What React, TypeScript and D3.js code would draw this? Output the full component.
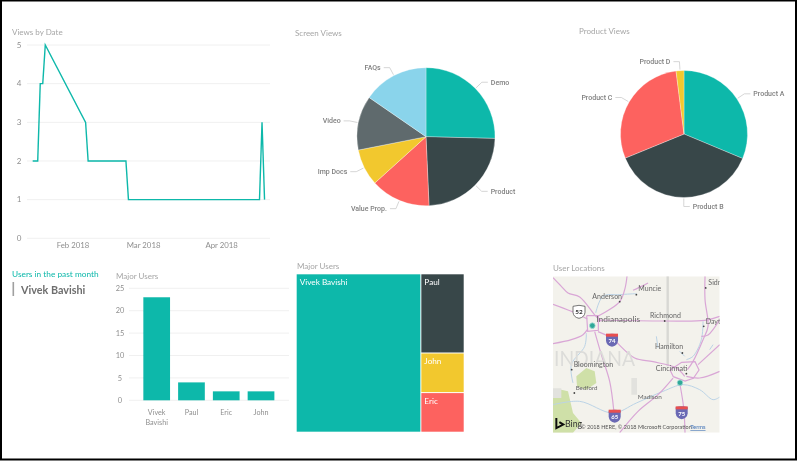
import React from 'react';
import * as d3 from 'd3';

const WIDTH = 797;
const HEIGHT = 461;
const FONT = 'Lato, "Noto Sans", sans-serif';
const LABEL_FONT = 'Roboto, "Noto Sans", sans-serif';

const TEAL = '#0DB8AA';
const DARK = '#374649';
const RED = '#FD625E';
const YELLOW = '#F2C82F';
const GRAY = '#5F6B6D';
const SKY = '#8AD4EB';

// Views by Date
const viewDates = ['2018-01-16', '2018-01-18', '2018-01-19', '2018-01-20', '2018-01-21', '2018-02-06', '2018-02-07', '2018-02-22', '2018-02-23', '2018-04-16', '2018-04-17', '2018-04-18'];
const viewCounts = [2, 2, 4, 4, 5, 3, 2, 2, 1, 1, 3, 1];
const viewTicks = [0, 1, 2, 3, 4, 5];
const monthTicks = ['2018-02-01', '2018-03-01', '2018-04-01'];
const monthLabels = ['Feb 2018', 'Mar 2018', 'Apr 2018'];

// Screen Views
const screenNames = ['Demo', 'Product', 'Value Prop.', 'Imp Docs', 'Video', 'FAQs'];
const screenValues = [25.4, 23.9, 14.0, 8.6, 12.7, 15.4];
const screenColors = [TEAL, DARK, RED, YELLOW, GRAY, SKY];

// Product Views
const productNames = ['Product A', 'Product B', 'Product C', 'Product D'];
const productValues = [31.3, 37.5, 29.2, 2.0];
const productColors = [TEAL, DARK, RED, YELLOW];

// Major Users
const userNames = ['Vivek Bavishi', 'Paul', 'Eric', 'John'];
const userCounts = [23, 4, 2, 2];
const userTicks = [0, 5, 10, 15, 20, 25];

// Treemap order
const treeNames = ['Vivek Bavishi', 'Paul', 'John', 'Eric'];
const treeValues = [23, 4, 2, 2];
const treeColors = [TEAL, DARK, YELLOW, RED];

// Map features, in map units (500 x 469)
const mapMotorways: [number, number][][] = [
  [[0, 84], [55, 105], [103, 128]],
  [[0, 4], [25, 30], [45, 50], [80, 62], [127, 118], [145, 135]],
  [[0, 202], [55, 190], [90, 175], [103, 160]],
  [[130, 122], [200, 76], [216, 36], [222, 0]],
  [[135, 131], [335, 134], [455, 132], [500, 120]],
  [[135, 166], [175, 185], [245, 245], [300, 256], [370, 275], [395, 300]],
  [[125, 166], [145, 235], [170, 315], [182, 400]],
  [[403, 280], [420, 255], [450, 190], [465, 150], [456, 70], [456, 0]],
  [[380, 320], [392, 395], [396, 469]],
  [[360, 305], [315, 355], [255, 405], [200, 469]],
  [[435, 265], [500, 205]],
  [[445, 180], [465, 176], [500, 130]],
  [[400, 300], [440, 305], [500, 285]],
  [[240, 42], [270, 28], [285, 20]]
];
const mapRings: [number, number][][] = [
  [[101, 118], [136, 118], [136, 162], [104, 165], [101, 118]],
  [[351, 281], [386, 258], [426, 256], [438, 281], [421, 306], [396, 314], [361, 301], [351, 281]]
];
const mapRivers: [number, number][][] = [
  [[128, 110], [150, 60], [200, 55], [250, 52]],
  [[100, 170], [95, 210], [55, 265], [60, 320]],
  [[0, 385], [80, 375], [180, 410], [250, 380], [330, 345], [390, 325], [440, 340], [480, 370], [500, 362]],
  [[310, 180], [315, 215]],
  [[395, 240], [380, 225]],
  [[450, 135], [445, 190], [420, 240], [400, 250]],
  [[480, 205], [470, 220]]
];
const parkLands: [number, number][][] = [
  [[0, 352], [25, 340], [45, 345], [60, 410], [85, 440], [60, 469], [0, 469]],
  [[70, 300], [100, 275], [125, 285], [130, 320], [100, 340], [72, 330]]
];
const greyLands: [number, number][][] = [
  [[235, 305], [252, 305], [252, 355], [235, 355]],
  [[0, 336], [25, 336], [25, 365], [0, 365]]
];
const mapPlaces = [
  { name: 'Muncie', x: 256, y: 45, size: 7, dot: [250, 55] },
  { name: 'Anderson', x: 118, y: 67, size: 7, dot: [200, 76] },
  { name: 'Indianapolis', x: 130, y: 138, size: 8.4, dot: null },
  { name: 'Richmond', x: 291, y: 125, size: 7, dot: [335, 134] },
  { name: 'Dayton', x: 458, y: 142, size: 7, dot: [452, 150] },
  { name: 'Sidney', x: 466, y: 27, size: 7, dot: [458, 35] },
  { name: 'Hamilton', x: 306, y: 219, size: 7, dot: [388, 230] },
  { name: 'Bloomington', x: 62, y: 272, size: 7, dot: [56, 280] },
  { name: 'Cincinnati', x: 308, y: 283, size: 7.2, dot: [400, 292] },
  { name: 'Bedford', x: 68, y: 341, size: 6.2, dot: [64, 350] },
  { name: 'Madison', x: 254, y: 367, size: 6.4, dot: null }
];
const mapPins: [number, number][] = [[118, 148], [381, 319]];
const interstates = [
  { name: '74', x: 177, y: 190 },
  { name: '65', x: 185, y: 418 },
  { name: '75', x: 386, y: 408 }
];

const mapX = d3.scaleLinear().domain([0, 500]).range([553, 719.7]);
const mapY = d3.scaleLinear().domain([0, 469]).range([276.3, 432.7]);
const mapLine = d3.line<[number, number]>().x(d => mapX(d[0])).y(d => mapY(d[1])).curve(d3.curveCatmullRom.alpha(0.5));
const mapRing = d3.line<[number, number]>().x(d => mapX(d[0])).y(d => mapY(d[1]));
const mapArea = d3.line<[number, number]>().x(d => mapX(d[0])).y(d => mapY(d[1])).curve(d3.curveLinearClosed);

function Title({ x, y, text }: { x: number; y: number; text: string }) {
  return <text x={x} y={y} fontSize={8} fill="#a6a6a6" fontFamily={FONT}>{text}</text>;
}

function LineVisual() {
  const parse = d3.utcParse('%Y-%m-%d');
  const x = d3.scaleUtc()
    .domain([parse('2018-02-01')!, parse('2018-04-01')!])
    .range([73, 221.7]);
  const y = d3.scaleLinear().domain([0, 5]).range([238.3, 45]);
  const path = d3.line<number>()
    .x((_, i) => x(parse(viewDates[i])!))
    .y(d => y(d))(viewCounts)!;
  return (
    <g fontFamily={FONT}>
      <Title x={12} y={35} text="Views by Date" />
      {viewTicks.map(t => (
        <g key={t}>
          <line x1={27} x2={270} y1={y(t)} y2={y(t)} stroke="#f0f0f0" strokeWidth={1} />
          <text x={19} y={y(t) + 2.8} fontSize={8} textAnchor="middle" fill="#8f8f8f">{t}</text>
        </g>
      ))}
      {monthTicks.map((m, i) => (
        <text key={m} x={x(parse(m)!)} y={247.5} fontSize={7.8} textAnchor="middle" fill="#8f8f8f">{monthLabels[i]}</text>
      ))}
      <path d={path} fill="none" stroke={TEAL} strokeWidth={1.4} />
    </g>
  );
}

function PieVisual({ cx, cy, r, names, values, colors, title, titleX, titleY }: {
  cx: number; cy: number; r: number; names: string[]; values: number[]; colors: string[];
  title: string; titleX: number; titleY: number;
}) {
  const arcs = d3.pie<number>().sort(null)(values);
  const arc = d3.arc<d3.PieArcDatum<number>>().innerRadius(0).outerRadius(r);
  const edge = d3.arc<d3.PieArcDatum<number>>().innerRadius(r + 1).outerRadius(r + 1);
  const elbow = d3.arc<d3.PieArcDatum<number>>().innerRadius(r + 9).outerRadius(r + 9);
  return (
    <g fontFamily={LABEL_FONT}>
      <Title x={titleX} y={titleY} text={title} />
      <g transform={`translate(${cx},${cy})`}>
        {arcs.map((a, i) => (
          <path key={names[i]} d={arc(a)!} fill={colors[i]} stroke="#fff" strokeWidth={0.3} />
        ))}
        {arcs.map((a, i) => {
          const [x0, y0] = edge.centroid(a);
          const [x1, y1] = elbow.centroid(a);
          const side = (a.startAngle + a.endAngle) / 2 <= Math.PI + 0.01 ? 1 : -1;
          const x2 = x1 + side * 6;
          return (
            <g key={names[i]}>
              <path d={`M${x0},${y0}L${x1},${y1}L${x2},${y1}`} fill="none" stroke="#c4c4c4" strokeWidth={0.7} />
              <text x={x2 + side * 3} y={y1 + 2.4} fontSize={7} fontWeight={500} fill="#808080"
                textAnchor={side > 0 ? 'start' : 'end'}>{names[i]}</text>
            </g>
          );
        })}
      </g>
    </g>
  );
}

function SlicerVisual() {
  return (
    <g fontFamily={FONT}>
      <text x={12} y={277} fontSize={8.3} fill={TEAL}>Users in the past month</text>
      <rect x={12.5} y={282} width={1.6} height={14} fill="#a0a0a0" />
      <text x={21} y={293.5} fontSize={10.8} fontWeight={700} fill="#6e6e6e">Vivek Bavishi</text>
    </g>
  );
}

function BarVisual() {
  const x = d3.scaleBand<string>().domain(userNames).range([139.3, 278.4]).paddingInner(0.232).paddingOuter(0.116);
  const y = d3.scaleLinear().domain([0, 25]).range([400.3, 288.3]);
  return (
    <g fontFamily={FONT}>
      <Title x={116} y={278.5} text="Major Users" />
      {userTicks.map(t => (
        <g key={t}>
          <line x1={129} x2={289} y1={y(t)} y2={y(t)} stroke="#f0f0f0" />
          <text x={120} y={y(t) + 2.6} fontSize={7.4} textAnchor="middle" fill="#8f8f8f">{t}</text>
        </g>
      ))}
      {userNames.map((name, i) => {
        const cx = x(name)! + x.bandwidth() / 2;
        return (
          <g key={name}>
            <rect x={x(name)} y={y(userCounts[i])} width={x.bandwidth()} height={y(0) - y(userCounts[i])} fill={TEAL} />
            {name.split(' ').map((word, j) => (
              <text key={word} x={cx} y={415 + j * 9.6} fontSize={7.2} textAnchor="middle" fill="#8f8f8f">{word}</text>
            ))}
          </g>
        );
      })}
    </g>
  );
}

function TreemapVisual() {
  const root = d3.hierarchy({ children: treeNames.map((name, i) => ({ name, value: treeValues[i], color: treeColors[i] })) } as any)
    .sum((d: any) => d.value || 0);
  d3.treemap<any>().tile(d3.treemapSquarify.ratio(1)).size([167, 157.4]).paddingInner(1)(root as any);
  return (
    <g fontFamily={FONT}>
      <Title x={297} y={269} text="Major Users" />
      <g transform="translate(296.7,274.3)">
        {(root.leaves() as any[]).map(leaf => (
          <g key={leaf.data.name} transform={`translate(${leaf.x0},${leaf.y0})`}>
            <rect width={leaf.x1 - leaf.x0} height={leaf.y1 - leaf.y0} fill={leaf.data.color} />
            <text x={3} y={10.5} fontSize={8.2} fill="#fff">{leaf.data.name}</text>
          </g>
        ))}
      </g>
    </g>
  );
}

function MapVisual() {
  const shieldPath = (cx: number, cy: number) => {
    const px = mapX(cx);
    const py = mapY(cy);
    return `M${px - 6},${py - 5}Q${px},${py - 7} ${px + 6},${py - 5}L${px + 6},${py + 1}Q${px + 5.5},${py + 6} ${px},${py + 7}Q${px - 5.5},${py + 6} ${px - 6},${py + 1}Z`;
  };
  return (
    <g fontFamily={FONT}>
      <Title x={553} y={271} text="User Locations" />
      <defs>
        <clipPath id="map-clip">
          <rect x={mapX(0)} y={mapY(0)} width={mapX(500) - mapX(0)} height={mapY(469) - mapY(0)} />
        </clipPath>
      </defs>
      <g clipPath="url(#map-clip)">
        <rect x={mapX(0)} y={mapY(0)} width={mapX(500) - mapX(0)} height={mapY(469) - mapY(0)} fill="#F3F2EC" />
        {parkLands.map((p, i) => <path key={i} d={mapArea(p)!} fill="#CFE0A8" />)}
        {greyLands.map((p, i) => <path key={i} d={mapArea(p)!} fill="#E2E2DE" />)}
        <line x1={mapX(344)} x2={mapX(344)} y1={mapY(0)} y2={mapY(270)} stroke="#d8d8d4" strokeWidth={2.4} />
        {mapRivers.map((p, i) => <path key={i} d={mapLine(p)!} fill="none" stroke="#BBD3E6" strokeWidth={1} />)}
        {mapMotorways.map((p, i) => <path key={i} d={mapLine(p)!} fill="none" stroke="#D9A6D6" strokeWidth={1.2} />)}
        {mapRings.map((p, i) => <path key={i} d={mapRing(p)!} fill="none" stroke="#D9A6D6" strokeWidth={1.2} />)}
        <text x={mapX(3)} y={mapY(268)} fontSize={22} fill="#dcdcd9" textLength={81} lengthAdjust="spacingAndGlyphs">INDIANA</text>
        {mapPlaces.map(p => (
          <g key={p.name}>
            {p.dot && <circle cx={mapX(p.dot[0])} cy={mapY(p.dot[1])} r={0.9} fill="#444" />}
            <text x={mapX(p.x)} y={mapY(p.y)} fontSize={p.size} fill="#666">{p.name}</text>
          </g>
        ))}
        {mapPins.map((p, i) => (
          <circle key={i} cx={mapX(p[0])} cy={mapY(p[1])} r={2.8} fill="#2FA898" stroke="#a6dcd6" strokeWidth={0.8} />
        ))}
        <path d={shieldPath(78, 105)} fill="#fff" stroke="#555" strokeWidth={0.8} />
        <text x={mapX(78)} y={mapY(105) + 2.4} fontSize={6.4} fontWeight={700} fill="#333" textAnchor="middle">52</text>
        {interstates.map(s => (
          <g key={s.name}>
            <path d={shieldPath(s.x, s.y)} fill="#6A69B4" />
            <rect x={mapX(s.x) - 6} y={mapY(s.y) - 6} width={12} height={3} fill="#E8504F" />
            <text x={mapX(s.x)} y={mapY(s.y) + 3.6} fontSize={6} fontWeight={700} fill="#fff" textAnchor="middle">{s.name}</text>
          </g>
        ))}
        <path d={`M${mapX(10)},${mapY(425)}v10l7,-3.5l-4,-2.5`} fill="none" stroke="#111" strokeWidth={2} />
        <text x={mapX(36)} y={mapY(451)} fontSize={8.8} fill="#333">Bing</text>
        <text x={mapX(84)} y={mapY(459)} fontSize={5.5} fill="#555">© 2018 HERE, © 2018 Microsoft Corporation</text>
        <text x={mapX(412)} y={mapY(459)} fontSize={5.8} fill="#3D6FB5" textDecoration="underline">Terms</text>
      </g>
    </g>
  );
}

export default function App() {
  return (
    <svg width={WIDTH} height={HEIGHT} style={{ position: 'fixed', left: 0, top: 0, display: 'block' }}>
      <defs>
        <filter id="soft" x="0" y="0" width="100%" height="100%"><feGaussianBlur stdDeviation="0.3" /></filter>
      </defs>
      <rect width={WIDTH} height={HEIGHT} fill="#fff" />
      <g filter="url(#soft)">
        <LineVisual />
        <PieVisual cx={426} cy={136.7} r={69} names={screenNames} values={screenValues} colors={screenColors}
          title="Screen Views" titleX={295} titleY={36} />
        <PieVisual cx={684} cy={134} r={63.5} names={productNames} values={productValues} colors={productColors}
          title="Product Views" titleX={579} titleY={33.5} />
        <SlicerVisual />
        <BarVisual />
        <TreemapVisual />
        <MapVisual />
      </g>
      <rect x={1} y={0.5} width={795} height={459} fill="none" stroke="#000" strokeWidth={2} />
    </svg>
  );
}
